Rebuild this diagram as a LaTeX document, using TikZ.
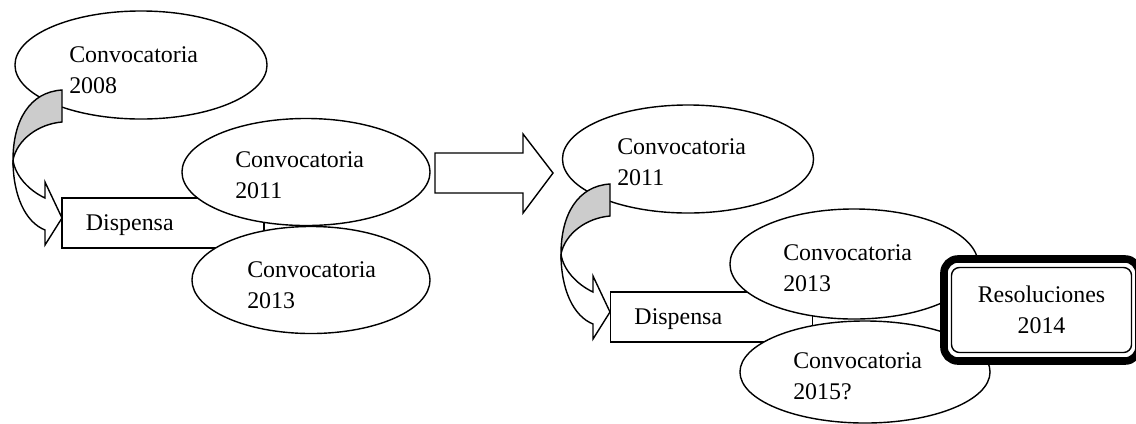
\documentclass[tikz,border=0pt]{standalone}
\usepackage{fontspec}
\setmainfont{Liberation Serif}
\usepackage{tikz}
\usetikzlibrary{shapes.geometric,positioning}
\definecolor{backgray}{RGB}{204,204,204}

% curved block arrow, drawn at the origin of the current scope
\newcommand{\bentarrow}{%
    \filldraw[bent, fill=backgray] (62,90) .. controls (30,92) and (13,120) .. (13,160)
        .. controls (17,140) and (38,124) .. (62,122) -- cycle;
    \filldraw[bent, fill=white] (13,160) .. controls (13,195) and (25,222) .. (45,230)
        -- (45,245) -- (62,218) -- (45,182) -- (45,198)
        .. controls (28,190) and (15,175) .. (13,160) -- cycle;
}

\begin{document}
\begin{tikzpicture}[
    x=0.025cm, y=-0.025cm,
    convo/.style={ellipse, draw, fill=white, line width=1pt, inner sep=0pt},
    lbl/.style={anchor=west, inner sep=0pt, align=left, font=\fontsize{17pt}{22pt}\selectfont},
    dispbox/.style={rectangle, draw, fill=white, line width=1pt, minimum width=5.05cm, minimum height=1.25cm, text width=3.85cm, inner xsep=0.6cm, text depth=0pt, align=left, font=\fontsize{17pt}{22pt}\selectfont},
    bent/.style={draw, line width=1pt, line join=miter},
    resframe/.style={rectangle, draw, fill=white, line width=5.4pt, rounded corners=0.35cm, minimum width=4.875cm, minimum height=2.55cm},
    resbox/.style={rectangle, draw, fill=white, line width=1pt, rounded corners=0.2cm, minimum width=4.5cm, minimum height=2.125cm, align=center, font=\fontsize{17pt}{22pt}\selectfont}
]
    \useasboundingbox (0,0) rectangle (1136,423);
    \clip (0,0) rectangle (1136,423);

    % First ellipses of both groups
    \node[convo, minimum width=6.3cm, minimum height=2.7cm] (c2008) at (141,65) {};
    \node[lbl] (t2008) at (69,70) {Convocatoria\\2008};
    \node[convo, minimum width=6.275cm, minimum height=2.7cm] (c2011b) at (688,159) {};
    \node[lbl] (t2011b) at (617,162) {Convocatoria\\2011};

    % Curved arrows
    \foreach \dx/\dy in {0/0, 548/94} {
        \begin{scope}[shift={(\dx,\dy)}]
            \bentarrow
        \end{scope}
    }

    % Left group
    \node[dispbox] (disp1) at (163,223) {Dispensa};
    \node[convo, minimum width=6.2cm, minimum height=2.675cm] (c2011a) at (306,172) {};
    \node[lbl] (t2011a) at (235,175) {Convocatoria\\2011};
    \node[convo, minimum width=5.95cm, minimum height=2.675cm] (c2013a) at (311,280) {};
    \node[lbl] (t2013a) at (247,285) {Convocatoria\\2013};

    % Block arrow between groups
    \draw[bent, fill=white] (435,153) -- (523,153) -- (523,134) -- (553,173)
        -- (523,213) -- (523,193) -- (435,193) -- cycle;

    % Right group
    \node[dispbox] (disp2) at (711.5,317) {Dispensa};
    \node[convo, minimum width=6.2cm, minimum height=2.75cm] (c2013b) at (854,264) {};
    \node[lbl] (t2013b) at (783,268) {Convocatoria\\2013};
    \node[convo, minimum width=6.25cm, minimum height=2.55cm] (c2015) at (865,372) {};
    \node[lbl] (t2015) at (793,376) {Convocatoria\\2015?};

    % Result box
    \node[resframe] (resout) at (1041.5,310) {};
    \node[resbox] (res) at (resout) {Resoluciones\\2014};

\end{tikzpicture}
\end{document}
